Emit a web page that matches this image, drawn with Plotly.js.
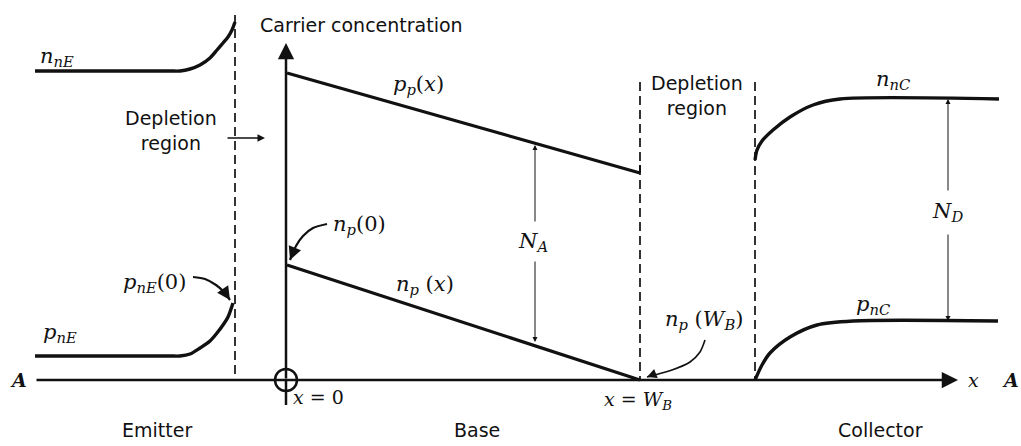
<!DOCTYPE html>
<html>
<head>
<meta charset="utf-8">
<script src="https://cdn.plot.ly/plotly-3.0.1.min.js"></script>
<style>
  html, body { margin: 0; padding: 0; background: #fff; }
  #chart { width: 1021px; height: 446px; }
</style>
</head>
<body>
<div id="chart"></div>
<script>
// Position x is measured from the emitter-base junction (x = 0); the base ends at x = W_B.
// Concentrations are in arbitrary units, zero on the x axis.
const W_B = 354;
const emitterEdge = -51;
const collectorEdge = 469;

// Emitter majority electrons n_nE
const nnE_x = [-251, -166, -116, -106, -96, -86, -76, -69, -63, -58, -54, -51];
const nnE_y = [309, 309, 309, 309, 311, 315, 322, 330, 337, 343, 350, 358];
// Emitter minority holes p_nE
const pnE_x = [-251, -166, -116, -106, -96, -86, -76, -69, -63, -58, -53];
const pnE_y = [24, 24, 24, 24, 26, 32, 39, 47, 55, 63, 77];

// Base: majority holes p_p(x) and minority electrons n_p(x)
const pp_x = [1, W_B];
const pp_y = [307, 207];
const np_x = [1, W_B];
const np_y = [115, 0];

// Collector majority electrons n_nC
const nnC_x = [469, 471, 476, 487, 504, 527, 554, 713];
const nnC_y = [220, 230, 239, 250, 263, 275, 281, 281];
// Collector minority holes p_nC
const pnC_x = [469, 476, 484, 504, 531, 567, 712];
const pnC_y = [0, 15, 27, 43, 55, 59, 59];

// Pointer curves for the boundary labels
const ptr_pnE0_x = [-93, -81, -70, -62, -56];
const ptr_pnE0_y = [103, 101, 95, 88, 80];
const ptr_np0_x = [41, 27, 17, 10, 4];
const ptr_np0_y = [156, 152, 144, 134, 120];
const ptr_npWB_x = [419, 414, 404, 386, 361];
const ptr_npWB_y = [40, 28, 18, 10, 3];

const INK = '#111';
const SANS = 'DejaVu Sans, Verdana, sans-serif';
const SERIF = 'DejaVu Serif, Georgia, serif';
const SANS_SIZE = 19;
const MATH_SIZE = 21;

function curve(x, y, w, shape) {
  return { x: x, y: y, type: 'scatter', mode: 'lines', hoverinfo: 'skip',
           line: { color: INK, width: w, shape: shape || 'spline', smoothing: 0.8 } };
}

const traces = [
  curve(nnE_x, nnE_y, 3.4),
  curve(pnE_x, pnE_y, 3.4),
  curve(pp_x, pp_y, 3.2, 'linear'),
  curve(np_x, np_y, 3.2, 'linear'),
  curve(nnC_x, nnC_y, 3.4),
  curve(pnC_x, pnC_y, 3.4),
  curve(ptr_pnE0_x, ptr_pnE0_y, 2.2),
  curve(ptr_np0_x, ptr_np0_y, 2.2),
  curve(ptr_npWB_x, ptr_npWB_y, 1.6)
];

function dashed(x, yTop) {
  return { type: 'line', xref: 'x', yref: 'y', x0: x, x1: x, y0: yTop, y1: 0,
           line: { color: INK, width: 1.7, dash: '9px,5px' } };
}

const shapes = [
  dashed(emitterEdge, 365),
  dashed(W_B, 298),
  dashed(collectorEdge, 298),
  // vertical axis below the origin
  { type: 'line', xref: 'x', yref: 'y', x0: 0, x1: 0, y0: -25, y1: 0, line: { color: INK, width: 2.5 } },
  // origin marker
  { type: 'circle', xref: 'x', yref: 'y', x0: -11, x1: 11, y0: -11, y1: 11, line: { color: INK, width: 2.5 } },
  // small step where p_p(x) meets the depletion edge
  { type: 'line', xref: 'x', yref: 'y', x0: W_B, x1: W_B, y0: 207, y1: 215, line: { color: INK, width: 2 } }
];

function txt(x, y, text, size, family, extra) {
  return Object.assign({ x: x, y: y, xref: 'x', yref: 'y', text: text, showarrow: false,
    font: { family: family || SANS, size: size || SANS_SIZE, color: INK } }, extra || {});
}
function math(x, y, text, size) {
  return txt(x, y, text, size || MATH_SIZE, SERIF);
}
function arrow(tx, ty, hx, hy, w, size, head) {
  return { x: hx, y: hy, ax: tx, ay: ty, xref: 'x', yref: 'y', axref: 'x', ayref: 'y',
           text: '', showarrow: true, arrowhead: head || 2, arrowsize: size || 1,
           arrowwidth: w || 1, arrowcolor: INK, standoff: 0, startstandoff: 0 };
}
const it = s => '<i>' + s + '</i>';
const sub = s => '<sub>' + it(s) + '</sub>';

const annotations = [
  // axes
  arrow(-251, 0, 672, 0, 2.5, 1.3, 2),
  arrow(0, 0, 0, 337, 2.5, 1.3, 2),
  txt(-28, 355, 'Carrier concentration', SANS_SIZE, SANS, { xanchor: 'left' }),
  math(-268, 0, '<b>' + it('A') + '</b>', 19),
  math(687, 0, it('x'), 19),
  math(724, 0, '<b>' + it('A') + '</b>', 19),

  // region names
  txt(-129, -50, 'Emitter'),
  txt(191, -50, 'Base'),
  txt(594, -50, 'Collector'),
  txt(-115, 250, 'Depletion<br>region'),
  txt(411, 285, 'Depletion<br>region'),
  arrow(-60, 242, -21, 242, 1.5, 1, 2),

  // carrier labels
  math(-229, 323, it('n') + sub('nE')),
  math(-226, 47, it('p') + sub('nE')),
  math(-132, 97, it('p') + sub('nE') + '(0)'),
  math(132, 295, it('p') + sub('p') + '(' + it('x') + ')'),
  math(73, 155, it('n') + sub('p') + '(0)'),
  math(139, 95, it('n') + sub('p') + ' (' + it('x') + ')'),
  math(418, 60, it('n') + sub('p') + ' (' + it('W') + sub('B') + ')'),
  math(607, 300, it('n') + sub('nC')),
  math(587, 75, it('p') + sub('nC')),
  math(32, -17, it('x') + ' = 0', 19),
  math(352, -20, it('x') + ' = ' + it('W') + sub('B'), 19),

  // doping spans
  math(247, 138, it('N') + sub('A')),
  arrow(249, 157, 249, 235, 1, 1, 2),
  arrow(249, 120, 249, 38, 1, 1, 2),
  math(661, 168, it('N') + sub('D')),
  arrow(662, 188, 662, 281, 1, 1, 2),
  arrow(662, 147, 662, 59, 1, 1, 2),

  // pointer heads
  arrow(-60, 86, -56, 80, 2.2, 1.2, 2),
  arrow(6, 125, 4, 120, 2.2, 1.2, 2),
  arrow(366, 5, 361, 3, 1.6, 1.2, 2)
];

const layout = {
  width: 1021, height: 446,
  margin: { l: 0, r: 0, t: 0, b: 0 },
  paper_bgcolor: '#fff', plot_bgcolor: '#fff',
  showlegend: false,
  xaxis: { range: [-286, 735], visible: false, fixedrange: true },
  yaxis: { range: [-66, 380], visible: false, fixedrange: true },
  shapes: shapes,
  annotations: annotations
};

Plotly.newPlot('chart', traces, layout, { displayModeBar: false });
</script>
</body>
</html>
